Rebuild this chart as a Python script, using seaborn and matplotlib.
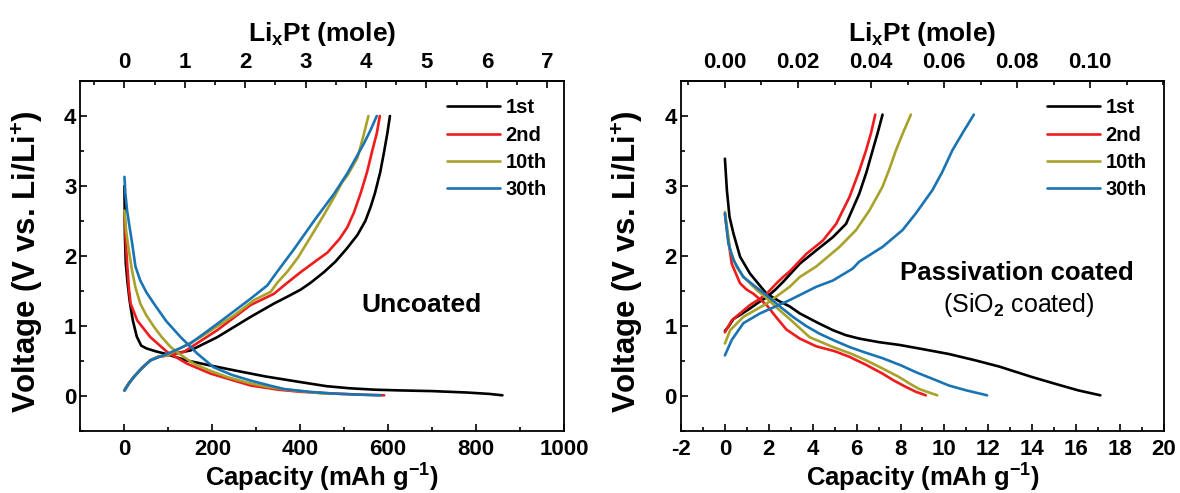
import numpy as np
import pandas as pd
import matplotlib
matplotlib.use("Agg")
import matplotlib.pyplot as plt
import seaborn as sns
from matplotlib.ticker import MultipleLocator

# ---- data: uncoated Pt (capacity mAh/g, voltage V) ----
cycles = ["1st", "2nd", "10th", "30th"]
colors = ["#000000", "#ee1c1c", "#a8a22a", "#1a74b3"]

unc_dis_1st_cap = [0, 1, 3, 7, 12, 19, 28, 38, 50, 70, 95, 140, 200, 247, 320, 399, 460, 513, 570, 626, 700, 778, 830, 860]
unc_dis_1st_v = [3.0, 2.3, 1.9, 1.62, 1.35, 1.08, 0.85, 0.72, 0.68, 0.64, 0.60, 0.51, 0.43, 0.37, 0.28, 0.20, 0.14, 0.11, 0.09, 0.08, 0.07, 0.05, 0.03, 0.01]
unc_chg_1st_cap = [0, 10, 21, 40, 59, 77, 100, 150, 211, 287, 340, 371, 401, 424, 454, 480, 505, 530, 548, 560, 570, 582, 591, 598, 604]
unc_chg_1st_v = [0.08, 0.18, 0.27, 0.40, 0.51, 0.56, 0.59, 0.65, 0.84, 1.13, 1.32, 1.42, 1.52, 1.62, 1.77, 1.92, 2.10, 2.30, 2.50, 2.70, 2.90, 3.20, 3.50, 3.75, 4.0]

unc_dis_2nd_cap = [0, 3, 6, 10, 14, 29, 59, 97, 143, 196, 287, 350, 401, 460, 515, 560, 591]
unc_dis_2nd_v = [2.62, 2.2, 1.9, 1.55, 1.32, 1.08, 0.84, 0.63, 0.46, 0.32, 0.15, 0.09, 0.06, 0.04, 0.025, 0.015, 0.01]
unc_chg_2nd_cap = [0, 10, 21, 40, 59, 77, 100, 135, 211, 287, 317, 340, 371, 401, 440, 462, 490, 507, 522, 537, 552, 564, 574, 581]
unc_chg_2nd_v = [0.08, 0.18, 0.27, 0.40, 0.51, 0.56, 0.58, 0.63, 0.94, 1.30, 1.39, 1.46, 1.62, 1.77, 1.95, 2.05, 2.25, 2.41, 2.62, 2.89, 3.20, 3.51, 3.75, 4.0]

unc_dis_10th_cap = [0, 4, 10, 17, 25, 36, 50, 67, 85, 105, 130, 158, 195, 234, 280, 325, 370, 416, 445, 470]
unc_dis_10th_v = [2.65, 2.35, 2.08, 1.80, 1.55, 1.32, 1.15, 0.99, 0.84, 0.70, 0.58, 0.46, 0.36, 0.27, 0.19, 0.13, 0.09, 0.06, 0.04, 0.03]
unc_chg_10th_cap = [0, 10, 21, 40, 59, 77, 97, 173, 249, 295, 333, 348, 371, 395, 431, 455, 477, 495, 507, 530, 543, 555]
unc_chg_10th_v = [0.08, 0.18, 0.27, 0.40, 0.51, 0.56, 0.58, 0.84, 1.15, 1.37, 1.49, 1.62, 1.78, 1.98, 2.35, 2.60, 2.84, 3.05, 3.15, 3.40, 3.70, 4.0]

unc_dis_30th_cap = [0, 2, 6, 12, 17.5, 25, 36, 50, 67, 95, 128, 165, 203, 245, 287, 330, 363, 420, 477, 530, 583]
unc_dis_30th_v = [3.13, 2.9, 2.65, 2.4, 2.18, 1.85, 1.65, 1.48, 1.32, 1.07, 0.84, 0.61, 0.41, 0.30, 0.22, 0.15, 0.10, 0.06, 0.034, 0.02, 0.01]
unc_chg_30th_cap = [0, 10, 21, 40, 59, 97, 150, 211, 287, 325, 348, 386, 431, 477, 507, 545, 560, 574]
unc_chg_30th_v = [0.08, 0.18, 0.27, 0.40, 0.51, 0.60, 0.75, 1.03, 1.39, 1.58, 1.78, 2.10, 2.50, 2.89, 3.18, 3.61, 3.80, 4.0]

# ---- data: passivation (SiO2) coated Pt ----
pas_dis_1st_cap = [0, 0.09, 0.21, 0.39, 0.69, 1.14, 1.9, 2.5, 2.95, 3.41, 4.2, 4.92, 5.5, 6.12, 7.0, 7.94, 9.0, 10.2, 11.4, 12.5, 13.3, 14.0, 15.2, 16.1, 17.1]
pas_dis_1st_v = [3.39, 2.94, 2.56, 2.32, 1.99, 1.75, 1.46, 1.35, 1.28, 1.18, 1.05, 0.94, 0.87, 0.82, 0.77, 0.73, 0.67, 0.60, 0.51, 0.42, 0.34, 0.27, 0.16, 0.08, 0.01]
pas_chg_1st_cap = [0, 0.16, 0.39, 0.8, 1.14, 1.5, 1.9, 2.3, 2.65, 3.41, 4.16, 4.92, 5.52, 6.12, 6.45, 6.73, 6.95, 7.18]
pas_chg_1st_v = [0.93, 0.99, 1.10, 1.18, 1.25, 1.33, 1.41, 1.52, 1.63, 1.89, 2.08, 2.27, 2.46, 2.89, 3.20, 3.51, 3.75, 4.02]

pas_dis_2nd_cap = [0, 0.09, 0.31, 0.54, 0.69, 0.99, 1.3, 1.9, 2.35, 2.8, 3.41, 4.16, 5.0, 5.67, 6.4, 7.18, 7.7, 8.24, 8.7, 9.15]
pas_dis_2nd_v = [2.6, 2.37, 1.89, 1.72, 1.61, 1.52, 1.46, 1.30, 1.12, 0.95, 0.82, 0.71, 0.64, 0.56, 0.45, 0.32, 0.22, 0.13, 0.06, 0.01]
pas_chg_2nd_cap = [0, 0.31, 0.84, 1.14, 1.6, 1.9, 2.35, 2.65, 2.95, 3.71, 4.46, 5.07, 5.67, 6.1, 6.43, 6.65, 6.85]
pas_chg_2nd_v = [0.91, 1.08, 1.22, 1.30, 1.39, 1.46, 1.61, 1.70, 1.78, 2.03, 2.22, 2.46, 2.84, 3.20, 3.51, 3.75, 4.02]

pas_dis_10th_cap = [0, 0.24, 0.54, 0.8, 1.14, 1.5, 1.9, 2.4, 2.95, 3.86, 4.92, 5.7, 6.43, 7.2, 7.94, 8.4, 8.85, 9.3, 9.67]
pas_dis_10th_v = [2.63, 2.08, 1.84, 1.72, 1.61, 1.50, 1.40, 1.25, 1.10, 0.84, 0.70, 0.61, 0.51, 0.39, 0.27, 0.18, 0.10, 0.05, 0.01]
pas_chg_10th_cap = [0, 0.24, 0.84, 1.9, 2.95, 3.41, 4.16, 5.22, 5.97, 6.58, 7.18, 7.5, 7.79, 8.1, 8.47]
pas_chg_10th_v = [0.75, 0.94, 1.13, 1.32, 1.56, 1.70, 1.85, 2.13, 2.37, 2.65, 2.99, 3.25, 3.51, 3.75, 4.02]

pas_dis_30th_cap = [0, 0.16, 0.39, 0.84, 1.6, 1.9, 2.5, 3.1, 3.7, 4.31, 5.0, 5.67, 6.4, 7.18, 8.0, 8.7, 9.5, 10.2, 11.0, 11.94]
pas_dis_30th_v = [2.61, 2.18, 1.94, 1.70, 1.51, 1.44, 1.28, 1.13, 1.00, 0.89, 0.79, 0.70, 0.62, 0.54, 0.44, 0.34, 0.24, 0.15, 0.08, 0.01]
pas_chg_30th_cap = [0, 0.31, 0.84, 1.6, 2.95, 4.16, 4.92, 5.82, 6.12, 7.18, 8.09, 8.7, 9.45, 9.9, 10.36, 10.85, 11.34]
pas_chg_30th_v = [0.58, 0.80, 1.04, 1.18, 1.37, 1.56, 1.65, 1.82, 1.92, 2.13, 2.37, 2.61, 2.94, 3.20, 3.51, 3.77, 4.02]

# mAh/g per mole Li per Pt (top axes)
unc_per_mole = 137.4
pas_per_mole = 166.4


def build_df(curves):
    rows = []
    for cyc, seg, cap, v in curves:
        rows.append(pd.DataFrame({"cap": cap, "V": v, "cycle": cyc, "seg": f"{cyc}-{seg}"}))
    return pd.concat(rows, ignore_index=True)


unc_df = build_df([
    ("1st", "d", unc_dis_1st_cap, unc_dis_1st_v), ("1st", "c", unc_chg_1st_cap, unc_chg_1st_v),
    ("2nd", "d", unc_dis_2nd_cap, unc_dis_2nd_v), ("2nd", "c", unc_chg_2nd_cap, unc_chg_2nd_v),
    ("10th", "d", unc_dis_10th_cap, unc_dis_10th_v), ("10th", "c", unc_chg_10th_cap, unc_chg_10th_v),
    ("30th", "d", unc_dis_30th_cap, unc_dis_30th_v), ("30th", "c", unc_chg_30th_cap, unc_chg_30th_v),
])
pas_df = build_df([
    ("1st", "d", pas_dis_1st_cap, pas_dis_1st_v), ("1st", "c", pas_chg_1st_cap, pas_chg_1st_v),
    ("2nd", "d", pas_dis_2nd_cap, pas_dis_2nd_v), ("2nd", "c", pas_chg_2nd_cap, pas_chg_2nd_v),
    ("10th", "d", pas_dis_10th_cap, pas_dis_10th_v), ("10th", "c", pas_chg_10th_cap, pas_chg_10th_v),
    ("30th", "d", pas_dis_30th_cap, pas_dis_30th_v), ("30th", "c", pas_chg_30th_cap, pas_chg_30th_v),
])

sns.set_theme(style="ticks")
plt.rcParams["font.family"] = ["Liberation Sans", "DejaVu Sans"]
plt.rcParams["font.weight"] = "bold"
plt.rcParams["axes.labelweight"] = "bold"
plt.rcParams["text.color"] = "black"
plt.rcParams["axes.labelcolor"] = "black"
plt.rcParams["xtick.color"] = "black"
plt.rcParams["ytick.color"] = "black"
plt.rcParams["mathtext.fontset"] = "custom"
plt.rcParams["mathtext.rm"] = "Liberation Sans"
plt.rcParams["mathtext.bf"] = "Liberation Sans:bold"
plt.rcParams["mathtext.default"] = "bf"

fig = plt.figure(figsize=(11.8, 4.93), dpi=100)
W, H = 1180, 493
ax1 = fig.add_axes([80.5 / W, (H - 431) / H, (564 - 80.5) / W, 350 / H])
ax2 = fig.add_axes([681 / W, (H - 431) / H, (1164 - 681) / W, 350 / H])

palette = dict(zip(cycles, colors))

panels = [
    (ax1, unc_df, (-100, 1000), range(0, 1001, 200), 100, unc_per_mole, range(0, 8), 0.5, "{:g}"),
    (ax2, pas_df, (-2, 20), range(-2, 21, 2), 1, pas_per_mole, np.arange(0, 0.11, 0.02), 0.01, "{:.2f}"),
]

for ax, df, xlim, xticks, xminor, per_mole, topticks, topminor, topfmt in panels:
    sns.lineplot(data=df, x="cap", y="V", hue="cycle", units="seg", estimator=None,
                 sort=False, palette=palette, hue_order=cycles, lw=1.9, ax=ax)
    ax.set_xlim(*xlim)
    ax.set_ylim(-0.5, 4.5)
    ax.set_xticks(list(xticks))
    ax.set_xticklabels([f"{t:g}" for t in xticks])
    ax.xaxis.set_minor_locator(MultipleLocator(xminor))
    ax.set_yticks([0, 1, 2, 3, 4])
    ax.yaxis.set_minor_locator(MultipleLocator(0.5))
    ax.tick_params(which="both", direction="in", top=False, right=False, labelsize=16, width=1.2)
    ax.tick_params(which="major", length=5)
    ax.tick_params(axis="x", which="major", pad=6)
    ax.tick_params(axis="y", which="major", pad=3)
    ax.tick_params(which="minor", length=3)
    for sp in ax.spines.values():
        sp.set_visible(True)
        sp.set_linewidth(1.3)
        sp.set_color("black")
    ax.set_xlabel("Capacity (mAh g$^{-1}$)", fontsize=18.5, labelpad=1)
    ax.set_ylabel("Voltage (V vs. Li/Li$^{+}$)", fontsize=22.5)
    ax.yaxis.set_label_coords(-0.072, 0.485)

    top = ax.secondary_xaxis("top", functions=(lambda c, k=per_mole: c / k, lambda m, k=per_mole: m * k))
    top.set_xticks(list(topticks))
    top.set_xticklabels([topfmt.format(t) for t in topticks])
    top.xaxis.set_minor_locator(MultipleLocator(topminor))
    top.tick_params(which="both", direction="in", labelsize=16, width=1.2)
    top.tick_params(which="major", length=5, pad=6)
    top.tick_params(which="minor", length=3)
    top.set_xlabel("Li$_\\mathbf{x}$Pt (mole)", fontsize=19, labelpad=8)

    handles, labels = ax.get_legend_handles_labels()
    keep = [(h, l) for h, l in zip(handles, labels) if l in cycles]
    ax.legend([h for h, _ in keep], [l for _, l in keep], loc="upper right",
              bbox_to_anchor=(1.0, 1.0), frameon=False, fontsize=14.5, handlelength=2.6,
              handletextpad=0.3, labelspacing=0.42, borderaxespad=0.45)

ax1.text(675, 1.30, "Uncoated", fontsize=19, fontweight="bold", ha="center", va="center")
ax2.text(13.3, 1.75, "Passivation coated", fontsize=18.5, fontweight="bold", ha="center", va="center")
ax2.text(13.4, 1.30, "(SiO$_\\mathrm{2}$ coated)", fontsize=18, fontweight="normal", ha="center", va="center")

fig.savefig("out.png", dpi=100)
